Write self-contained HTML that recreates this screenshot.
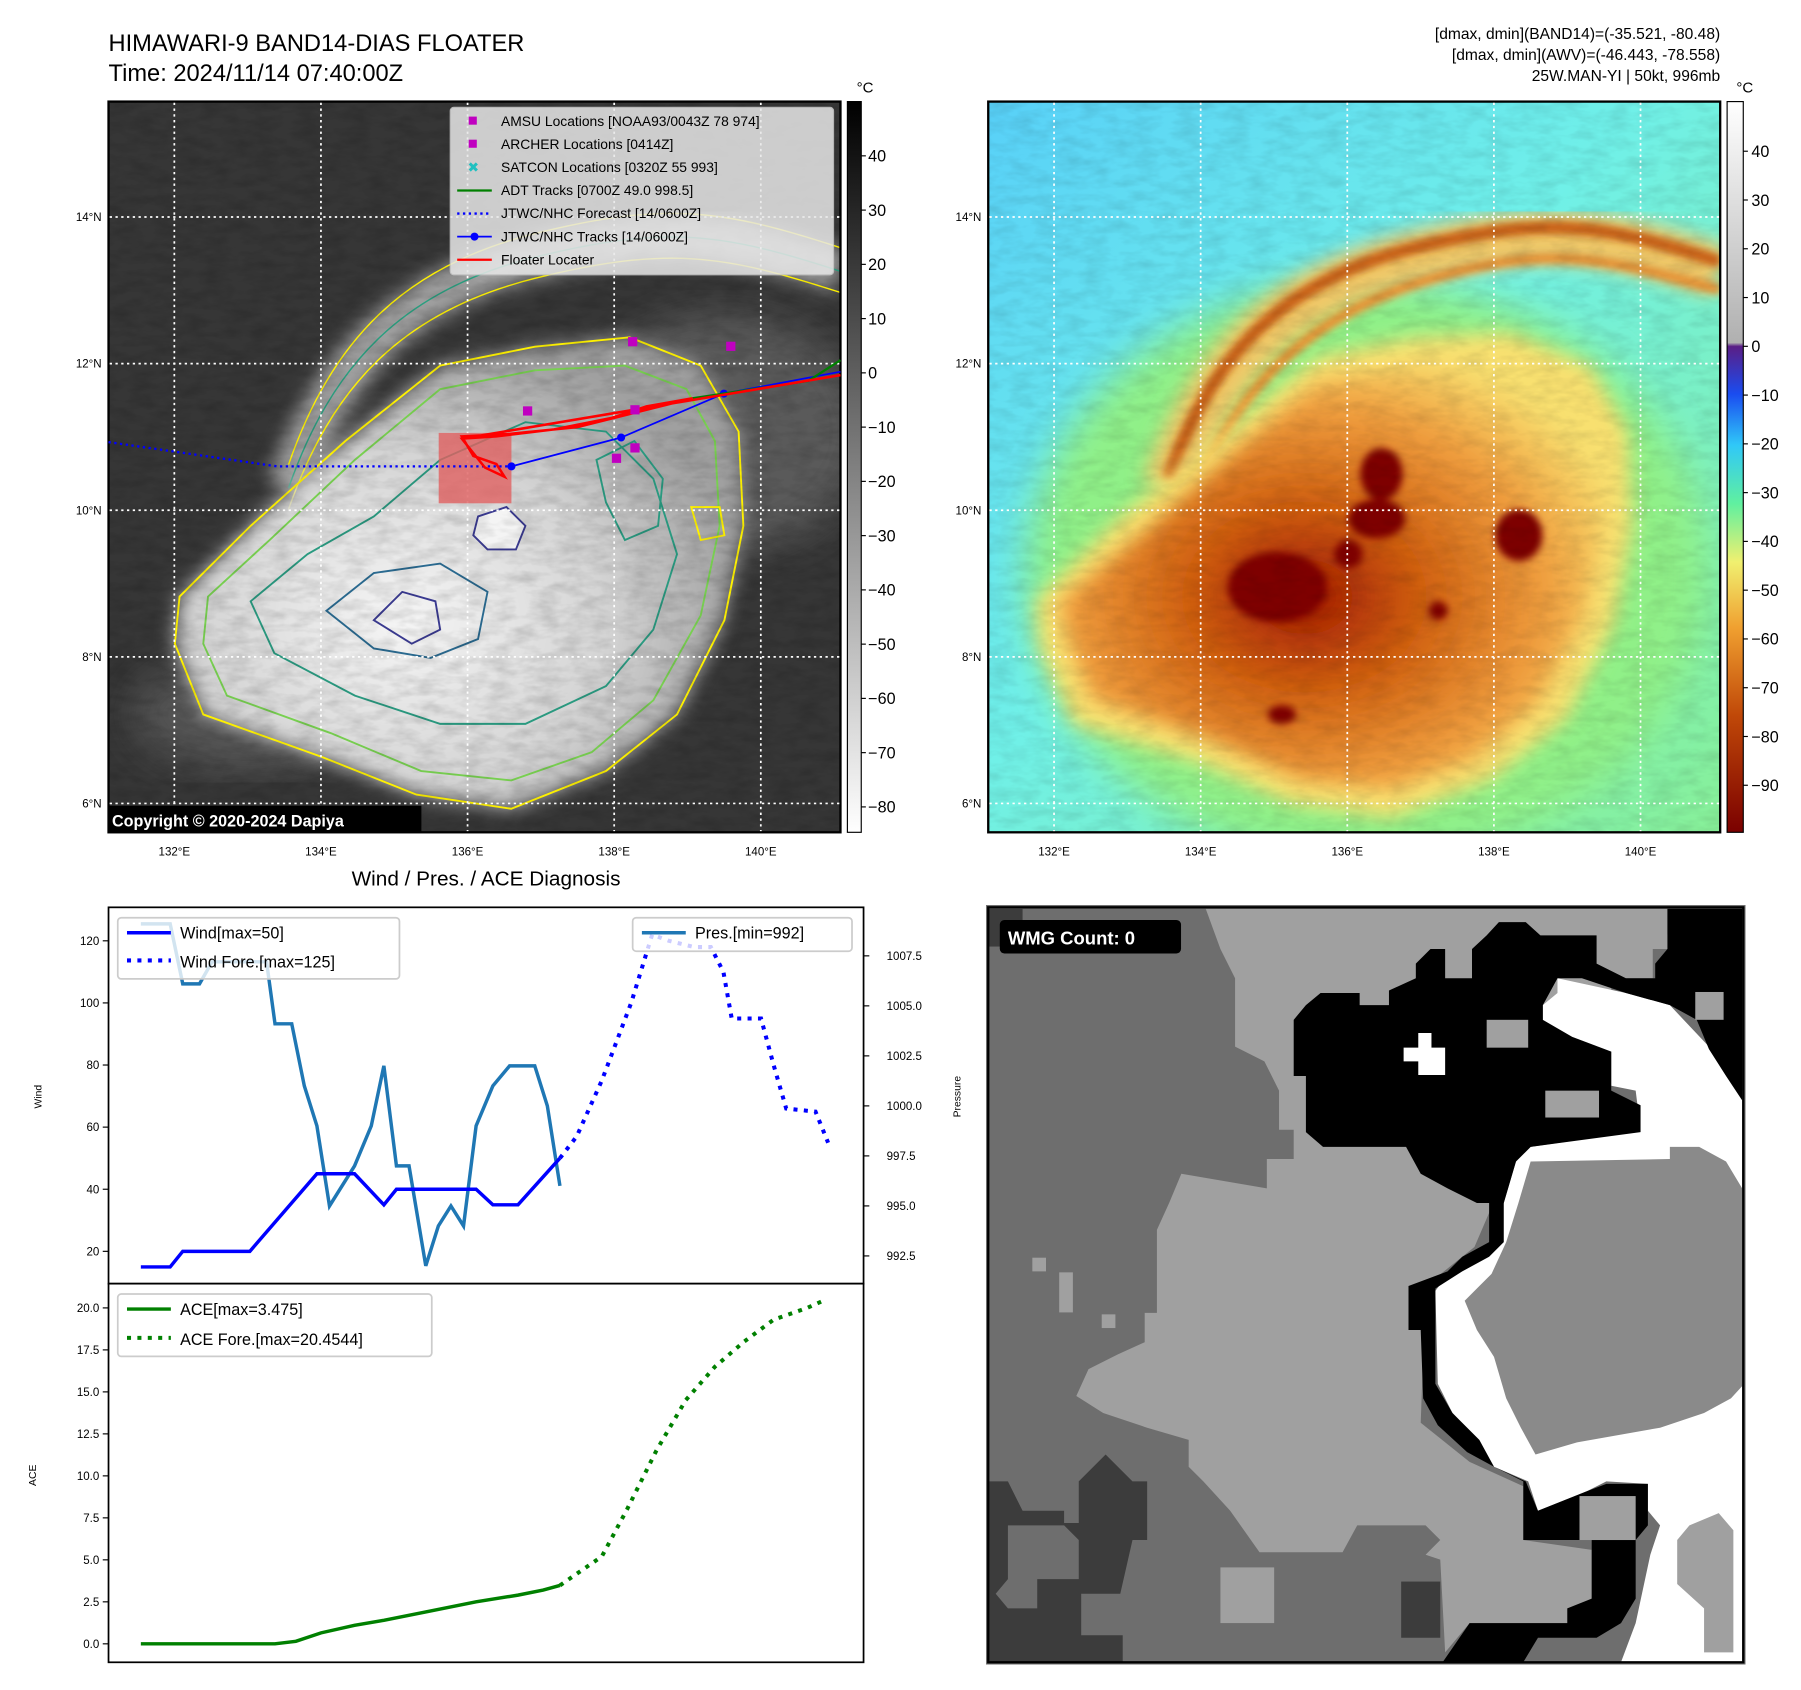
<!DOCTYPE html>
<html><head><meta charset="utf-8"><style>
html,body{margin:0;padding:0;background:#fff}
svg{display:block}
text{font-family:"Liberation Sans","DejaVu Sans",sans-serif}
</style></head><body>
<svg id="fig" xmlns="http://www.w3.org/2000/svg" width="1801" height="1690" viewBox="0 0 1560 1464" preserveAspectRatio="none">
<defs>
<filter id="blur8"><feGaussianBlur stdDeviation="8"/></filter>
<filter id="blur20"><feGaussianBlur stdDeviation="20"/></filter>
<filter id="blur40"><feGaussianBlur stdDeviation="40"/></filter>
<filter id="noise" x="0" y="0" width="100%" height="100%"><feTurbulence type="fractalNoise" baseFrequency="0.02 0.05" numOctaves="3" seed="4"/><feColorMatrix type="matrix" values="0 0 0 0 0  0 0 0 0 0  0 0 0 0 0  0 0 0 -1.4 0.9"/></filter>
<linearGradient id="cbL" x1="0" y1="0" x2="0" y2="1"><stop offset="0" stop-color="#000"/><stop offset="1" stop-color="#fff"/></linearGradient>
<linearGradient id="cbR" x1="0" y1="0" x2="0" y2="1">
<stop offset="0" stop-color="#ffffff"/><stop offset="0.33" stop-color="#b0b0b0"/><stop offset="0.335" stop-color="#5a1e86"/>
<stop offset="0.4" stop-color="#1a4cf0"/><stop offset="0.47" stop-color="#30c8f8"/><stop offset="0.55" stop-color="#60f0a0"/>
<stop offset="0.63" stop-color="#f0f070"/><stop offset="0.72" stop-color="#f0a030"/><stop offset="0.84" stop-color="#c04808"/><stop offset="1" stop-color="#7a0000"/></linearGradient>
<radialGradient id="stormR" cx="0.45" cy="0.55" r="0.62"><stop offset="0" stop-color="#a01800"/><stop offset="0.35" stop-color="#d06010"/><stop offset="0.72" stop-color="#f0a040"/><stop offset="1" stop-color="#f8e070"/></radialGradient>
<radialGradient id="stormL" cx="0.4" cy="0.6" r="0.6"><stop offset="0" stop-color="#f6f6f6"/><stop offset="0.6" stop-color="#d4d4d4"/><stop offset="1" stop-color="#a0a0a0"/></radialGradient>
<linearGradient id="bgR" x1="0" y1="0" x2="1" y2="1"><stop offset="0" stop-color="#58d0f8"/><stop offset="0.45" stop-color="#70f0e8"/><stop offset="1" stop-color="#88f098"/></linearGradient>
<clipPath id="clipMap"><rect x="0" y="0" width="1545" height="1550"/></clipPath>
</defs>

<text x="94" y="44" font-size="20.5">HIMAWARI-9 BAND14-DIAS FLOATER</text>
<text x="94" y="70" font-size="20.5">Time: 2024/11/14 07:40:00Z</text>
<g font-size="13.5" text-anchor="end">
<text x="1490" y="34">[dmax, dmin](BAND14)=(-35.521, -80.48)</text>
<text x="1490" y="52">[dmax, dmin](AWV)=(-46.443, -78.558)</text>
<text x="1490" y="70">25W.MAN-YI | 50kt, 996mb</text>
</g>

<g>
<svg x="94" y="88" width="634" height="633" viewBox="0 0 1545 1550" preserveAspectRatio="none">
<g clip-path="url(#clipMap)">
<rect width="1545" height="1550" fill="#363636"/>
<ellipse cx="1300" cy="700" rx="300" ry="250" fill="#5a5a5a" filter="url(#blur40)"/>
<ellipse cx="300" cy="1300" rx="250" ry="120" fill="#555" filter="url(#blur40)"/>
<path d="M380,820 C470,560 620,400 900,330 S1300,280 1545,360" stroke="#a0a0a0" stroke-width="90" fill="none" filter="url(#blur20)"/>
<path d="M380,820 C470,560 620,400 900,330 S1300,280 1545,360" stroke="#fff200" stroke-width="3" fill="none" transform="translate(0,-50)"/>
<path d="M380,820 C470,560 620,400 900,330 S1300,280 1545,360" stroke="#fff200" stroke-width="3" fill="none" transform="translate(0,45)"/>
<path d="M380,820 C470,560 620,400 900,330 S1300,280 1545,360" stroke="#2aa080" stroke-width="3" fill="none"/>
<path d="M150,1050 L300,900 L500,720 L700,560 L900,520 L1100,500 L1250,560 L1330,700 L1340,900 L1300,1100 L1200,1300 L1050,1420 L850,1500 L650,1470 L450,1390 L200,1300 L140,1150 Z" fill="url(#stormL)" filter="url(#blur20)"/>
<path d="M150,1050 L300,900 L500,720 L700,560 L900,520 L1100,500 L1250,560 L1330,700 L1340,900 L1300,1100 L1200,1300 L1050,1420 L850,1500 L650,1470 L450,1390 L200,1300 L140,1150 Z" fill="none" stroke="#fff200" stroke-width="4"/>
<path d="M210,1050 L340,930 L520,760 L700,610 L900,570 L1090,560 L1220,610 L1280,720 L1290,900 L1250,1090 L1150,1270 L1020,1380 L850,1440 L660,1420 L470,1340 L250,1260 L200,1150 Z" fill="none" stroke="#78d050" stroke-width="4"/>
<path d="M300,1060 L420,960 L560,880 L700,760 L880,680 L1050,700 L1150,800 L1200,960 L1150,1120 L1050,1240 L880,1320 L700,1320 L520,1260 L350,1170 Z" fill="none" stroke="#2a9a80" stroke-width="4"/>
<path d="M460,1080 L560,1000 L700,980 L800,1040 L780,1140 L680,1180 L560,1160 Z" fill="none" stroke="#2a6a90" stroke-width="4"/>
<path d="M560,1100 L620,1040 L690,1060 L700,1120 L640,1150 Z" fill="none" stroke="#3a3a90" stroke-width="4"/>
<path d="M780,880 L840,860 L880,900 L860,950 L800,950 L770,920 Z" fill="#f4f4f4" stroke="#3a3a90" stroke-width="4"/>
<path d="M1030,760 L1110,720 L1170,800 L1160,900 L1090,930 L1050,850 Z" fill="none" stroke="#2a9a80" stroke-width="4"/>
<path d="M1230,860 L1290,860 L1300,920 L1250,930 Z" fill="none" stroke="#fff200" stroke-width="4"/>
<rect width="1545" height="1550" filter="url(#noise)" opacity="0.18"/>
</g>
</svg>
<rect x="94" y="88" width="634" height="633" fill="none" stroke="#000" stroke-width="2"/>
</g>

<g>
<svg x="856" y="88" width="634" height="633" viewBox="0 0 1545 1550" preserveAspectRatio="none">
<g clip-path="url(#clipMap)">
<rect width="1545" height="1550" fill="url(#bgR)"/>
<ellipse cx="800" cy="1000" rx="720" ry="620" fill="#90f088" filter="url(#blur40)"/>
<path d="M380,820 C470,560 620,400 900,330 S1300,280 1545,360" stroke="#f0c868" stroke-width="110" fill="none" filter="url(#blur20)"/>
<path d="M380,800 C470,540 620,380 900,310 S1300,260 1545,340" stroke="#c86018" stroke-width="28" fill="none" filter="url(#blur8)"/>
<path d="M420,860 C520,620 660,460 920,380 S1300,330 1545,400" stroke="#e89030" stroke-width="22" fill="none" filter="url(#blur8)"/>
<path d="M100,1060 L280,880 L500,700 L700,540 L900,500 L1100,490 L1270,560 L1350,700 L1360,900 L1320,1110 L1220,1310 L1060,1440 L850,1520 L640,1490 L440,1400 L180,1320 L110,1160 Z" fill="#f8e070" filter="url(#blur20)"/>
<path d="M150,1060 L320,920 L520,740 L700,590 L900,560 L1090,550 L1230,610 L1300,720 L1300,900 L1260,1090 L1160,1280 L1020,1400 L850,1460 L660,1440 L460,1350 L220,1270 L170,1150 Z" fill="url(#stormR)" filter="url(#blur20)"/>
<g fill="#7e0000" filter="url(#blur8)">
<ellipse cx="830" cy="790" rx="45" ry="55"/>
<ellipse cx="820" cy="885" rx="60" ry="42"/>
<ellipse cx="610" cy="1030" rx="105" ry="75"/>
<ellipse cx="1120" cy="920" rx="50" ry="55"/>
<ellipse cx="620" cy="1300" rx="30" ry="20"/>
<ellipse cx="760" cy="960" rx="30" ry="30"/>
<ellipse cx="950" cy="1080" rx="20" ry="20"/>
</g>
<rect width="1545" height="1550" filter="url(#noise)" opacity="0.12"/>
</g>
</svg>
<rect x="856" y="88" width="634" height="633" fill="none" stroke="#000" stroke-width="2"/>
</g>

<g id="grids" stroke="#fff" stroke-width="1.5" stroke-dasharray="2,3"></g>
<g id="gridlabels" font-size="10"></g>

<g>
<rect x="380" y="375" width="63" height="61" fill="#e06060" opacity="0.8"/>
<polyline points="94,383 240,404 443,404" fill="none" stroke="#0000ff" stroke-width="2" stroke-dasharray="2,3"/>
<polyline points="443,404 538,379 627,341 728,322" fill="none" stroke="#0000ff" stroke-width="1.5"/>
<g fill="#0000ff"><circle cx="443" cy="404" r="3.5"/><circle cx="538" cy="379" r="3.5"/><circle cx="627" cy="341" r="3.5"/></g>
<polyline points="600,345 700,330 728,312" fill="none" stroke="#008000" stroke-width="2"/>
<polyline points="400,380 430,378 480,372 530,362 560,352 600,345 560,355 500,370 440,376 400,378 410,395 430,402 437,413 420,405 400,380 728,325" fill="none" stroke="#ff0000" stroke-width="2.2"/>
<g fill="#c000c0">
<rect x="544" y="292" width="8" height="8"/><rect x="629" y="296" width="8" height="8"/><rect x="453" y="352" width="8" height="8"/><rect x="546" y="351" width="8" height="8"/><rect x="546" y="384" width="8" height="8"/><rect x="530" y="393" width="8" height="8"/>
</g>
</g>

<g font-size="12">
<rect x="390" y="93" width="332" height="145" rx="3" fill="#e8e8e8" opacity="0.85" stroke="#ccc"/>
<rect x="406" y="101" width="7" height="7" fill="#c000c0"/><text x="434" y="109">AMSU Locations [NOAA93/0043Z 78 974]</text>
<rect x="406" y="121" width="7" height="7" fill="#c000c0"/><text x="434" y="129">ARCHER Locations [0414Z]</text>
<text x="405" y="149" fill="#20c0c0" font-size="12">✖</text><text x="434" y="149">SATCON Locations [0320Z 55 993]</text>
<line x1="396" y1="165" x2="426" y2="165" stroke="#008000" stroke-width="2"/><text x="434" y="169">ADT Tracks [0700Z 49.0 998.5]</text>
<line x1="396" y1="185" x2="426" y2="185" stroke="#0000ff" stroke-width="2" stroke-dasharray="2,3"/><text x="434" y="189">JTWC/NHC Forecast [14/0600Z]</text>
<line x1="396" y1="205" x2="426" y2="205" stroke="#0000ff" stroke-width="1.5"/><circle cx="411" cy="205" r="3.5" fill="#0000ff"/><text x="434" y="209">JTWC/NHC Tracks [14/0600Z]</text>
<line x1="396" y1="225" x2="426" y2="225" stroke="#ff0000" stroke-width="2"/><text x="434" y="229">Floater Locater</text>
</g>
<g>
<rect x="94" y="698" width="271" height="23" fill="#000"/>
<text x="97" y="716" fill="#fff" font-size="14" font-weight="bold">Copyright © 2020-2024 Dapiya</text>
</g>

<g>
<rect x="734" y="88" width="12" height="633" fill="url(#cbL)" stroke="#000" stroke-width="1"/>
<text x="742" y="80" font-size="13">°C</text>
<g id="cbLticks" font-size="14"></g>
</g>
<g>
<rect x="1496" y="88" width="14" height="633" fill="url(#cbR)" stroke="#000" stroke-width="1"/>
<text x="1504" y="80" font-size="13">°C</text>
<g id="cbRticks" font-size="14"></g>
</g>

<text x="421" y="767" font-size="18" text-anchor="middle">Wind / Pres. / ACE Diagnosis</text>
<g id="windchart"></g>
<g id="acechart"></g>

<g>
<svg x="854" y="784" width="658" height="658" viewBox="0 0 1555 1555" preserveAspectRatio="none">
<rect width="1555" height="1555" fill="#6e6e6e"/>
<rect x="5" y="8" width="70" height="77" fill="#3c3c3c"/>
<path fill="#a0a0a0" d="M450,8 L1395,8 L1395,60 L1420,60 L1420,90 L1365,90 L1365,150 L1280,150 L1280,300 L1140,300 L1060,560 L1000,700 L900,780 L890,1060 L990,1140 L1100,1190 L1100,1300 L1240,1320 L1240,1420 L1190,1470 L990,1470 L940,1530 L930,1340 L900,1330 L930,1300 L900,1270 L760,1270 L730,1325 L560,1325 L500,1240 L445,1180 L415,1150 L415,1095 L330,1070 L240,1040 L185,1005 L210,950 L270,920 L325,895 L325,835 L350,835 L350,665 L375,610 L400,550 L575,580 L575,520 L630,520 L630,460 L600,460 L600,380 L570,320 L510,290 L510,150 L480,90 Z"/>
<path fill="#ffffff" d="M1170,150 L1310,180 L1400,205 L1480,290 L1548,380 L1548,1550 L1300,1550 L1330,1470 L1360,1330 L1380,1270 L1355,1240 L1355,1185 L1270,1180 L1230,1200 L1130,1240 L1110,1180 L1040,1150 L1010,1100 L955,1040 L925,980 L920,790 L950,750 L1030,700 L1060,610 L1085,525 L1115,495 L1290,470 L1340,460 L1330,380 L1280,370 L1280,300 L1200,270 L1140,235 L1140,205 L1170,180 Z"/>
<path fill="#000" d="M1050,35 L1105,35 L1135,62 L1250,62 L1250,120 L1310,150 L1370,150 L1370,120 L1395,90 L1395,8 L1548,8 L1548,400 L1515,350 L1480,295 L1455,235 L1400,205 L1310,180 L1220,150 L1170,150 L1140,205 L1140,235 L1200,270 L1280,300 L1280,380 L1340,410 L1340,465 L1115,495 L1085,525 L1060,610 L1060,690 L1030,720 L975,750 L920,785 L920,980 L955,1040 L1010,1095 L1040,1150 L1105,1180 L1130,1240 L1230,1200 L1270,1185 L1355,1185 L1355,1270 L1330,1300 L1330,1420 L1300,1470 L1250,1500 L1130,1500 L1100,1550 L935,1550 L990,1470 L1190,1470 L1190,1440 L1240,1420 L1240,1300 L1100,1300 L1100,1180 L1040,1150 L985,1120 L925,1065 L895,1010 L890,870 L865,870 L865,780 L945,750 L975,720 L1030,690 L1030,610 L1005,610 L945,580 L890,550 L860,495 L690,495 L655,465 L655,350 L630,350 L630,235 L655,205 L685,180 L765,180 L765,205 L825,205 L825,175 L880,150 L880,120 L910,90 L940,90 L940,150 L995,150 L995,90 L1025,62 Z"/>
<rect x="1145" y="380" width="110" height="55" fill="#a0a0a0"/>
<rect x="1025" y="235" width="85" height="57" fill="#a0a0a0"/>
<rect x="1452" y="178" width="58" height="57" fill="#a0a0a0"/>
<path fill="#fff" d="M885,262 L912,262 L912,292 L940,292 L940,348 L885,348 L885,320 L855,320 L855,292 L885,292 Z"/>
<path fill="#8a8a8a" d="M1115,525 L1400,520 L1400,495 L1460,495 L1515,525 L1548,580 L1548,985 L1525,1010 L1470,1040 L1380,1070 L1210,1100 L1125,1125 L1095,1070 L1065,1010 L1040,925 L1005,870 L980,810 L1005,785 L1035,755 L1065,690 L1090,610 Z"/>
<rect x="1215" y="1210" width="115" height="90" fill="#a0a0a0"/>
<path fill="#a0a0a0" d="M1440,1270 L1500,1245 L1530,1280 L1530,1530 L1470,1530 L1470,1440 L1415,1390 L1415,1300 Z"/>
<path fill="#3c3c3c" d="M5,1180 L45,1180 L75,1240 L160,1240 L160,1265 L190,1265 L190,1180 L245,1125 L300,1180 L330,1180 L330,1300 L300,1300 L275,1410 L195,1410 L195,1495 L280,1495 L280,1550 L5,1550 Z"/>
<path fill="#6e6e6e" d="M45,1270 L160,1270 L190,1300 L190,1380 L105,1380 L105,1440 L45,1440 L20,1410 L45,1380 Z"/>
<rect x="850" y="1385" width="80" height="115" fill="#3c3c3c"/>
<rect x="95" y="722" width="28" height="28" fill="#a0a0a0"/>
<rect x="150" y="752" width="28" height="82" fill="#a0a0a0"/>
<rect x="237" y="838" width="28" height="28" fill="#a0a0a0"/>
<rect x="480" y="1356" width="110" height="114" fill="#a0a0a0"/>
</svg>
<rect x="856" y="786" width="654" height="654" fill="none" stroke="#000" stroke-width="2"/>
<rect x="866" y="797" width="157" height="29" rx="4" fill="#000"/>
<text x="873" y="818" fill="#fff" font-size="16" font-weight="bold">WMG Count: 0</text>
</g>
</svg>

<script>
var windTimes = [0, 7, 10, 26, 42, 51, 58, 61, 80, 84, 90, 100];
var windObs = [15, 15, 20, 20, 45, 45, 35, 40, 40, 35, 35, 50];
var windFcTimes = [100, 104, 110, 117, 122, 126, 132, 136, 139, 141, 148, 151, 154, 161, 164];
var windFc = [50, 57, 75, 100, 122, 120, 118, 118, 110, 95, 95, 80, 66, 65, 55];
var presTimes = [0, 7, 10, 14, 17, 30, 32, 36, 39, 42, 45, 51, 55, 58, 61, 64, 68, 71, 74, 77, 80, 84, 88, 94, 97, 100];
var presObs = [1009.1, 1009.1, 1006.1, 1006.1, 1007.2, 1007.2, 1004.1, 1004.1, 1001, 999, 995, 997, 999, 1002, 997, 997, 992, 994, 995, 994, 999, 1001, 1002, 1002, 1000, 996];
var aceTimes = [0, 32, 37, 43, 51, 58, 68, 80, 90, 96, 100];
var aceObs = [0, 0, 0.15, 0.65, 1.1, 1.4, 1.9, 2.5, 2.9, 3.2, 3.475];
var aceFcTimes = [100, 110, 116, 123, 130, 137, 144, 151, 159, 163];
var aceFc = [3.475, 5.2, 8, 11.5, 14.5, 16.5, 18, 19.3, 20, 20.45];
var windTicks = [20, 40, 60, 80, 100, 120];
var presTicks = [992.5, 995.0, 997.5, 1000.0, 1002.5, 1005.0, 1007.5];
var aceTicks = [0.0, 2.5, 5.0, 7.5, 10.0, 12.5, 15.0, 17.5, 20.0];
var cbLeftTicks = [40, 30, 20, 10, 0, -10, -20, -30, -40, -50, -60, -70, -80];
var cbRightTicks = [40, 30, 20, 10, 0, -10, -20, -30, -40, -50, -60, -70, -80, -90];
var lonTicks = [132, 134, 136, 138, 140];
var latTicks = [14, 12, 10, 8, 6];

var NS = 'http://www.w3.org/2000/svg';
function mk(tag, attrs, parent) {
  var e = document.createElementNS(NS, tag);
  for (var k in attrs) e.setAttribute(k, attrs[k]);
  if (parent) parent.appendChild(e);
  return e;
}
function xT(t) { return 122 + t * 3.63; }
function yW(w) { return 1084 - (w - 20) * 2.69; }
function yP(p) { return 958 - (p - 1000) * 17.33; }
function yA(a) { return 1424 - a * 14.55; }
function xLon(l, off) { return 151 + (l - 132) * 63.5 + off; }
function yLat(l) { return 188 + (14 - l) * 63.5; }
function yCbL(v) { return 135 + (40 - v) * 4.7; }
function yCbR(v) { return 131 + (40 - v) * 4.225; }
function pts(ts, vs, fy) { return ts.map(function (t, i) { return xT(t).toFixed(1) + ',' + fy(vs[i]).toFixed(1); }).join(' '); }

var grids = document.getElementById('grids');
var gl = document.getElementById('gridlabels');
[0, 762].forEach(function (off) {
  lonTicks.forEach(function (l) {
    var ln = mk('line', { x1: xLon(l, off), x2: xLon(l, off), y1: 89, y2: 720 }, grids);
    
    
    var tx = mk('text', { x: xLon(l, off), y: 741, 'text-anchor': 'middle' }, gl);
    tx.textContent = l + '°E';
    
    
  });
  latTicks.forEach(function (l) {
    var ln = mk('line', { x1: 95 + off, x2: 727 + off, y1: yLat(l), y2: yLat(l) }, grids);
    
    
    var tx = mk('text', { x: 88 + off, y: yLat(l) + 3.5, 'text-anchor': 'end' }, gl);
    tx.textContent = l + '°N';
    
    
  });
});
function fmtNeg(v) { return v < 0 ? '\u2212' + Math.abs(v) : '' + v; }
var cbl = document.getElementById('cbLticks');
cbLeftTicks.forEach(function (v) {
  mk('line', { x1: 746, x2: 750, y1: yCbL(v), y2: yCbL(v), stroke: '#000' }, cbl);
  var t = mk('text', { x: 752, y: yCbL(v) + 5 }, cbl);
  t.textContent = fmtNeg(v);
  
  
});
var cbr = document.getElementById('cbRticks');
cbRightTicks.forEach(function (v) {
  mk('line', { x1: 1510, x2: 1514, y1: yCbR(v), y2: yCbR(v), stroke: '#000' }, cbr);
  var t = mk('text', { x: 1517, y: yCbR(v) + 5 }, cbr);
  t.textContent = fmtNeg(v);
  
  
});

var wc = document.getElementById('windchart');
mk('rect', { x: 94, y: 786, width: 654, height: 326, fill: '#fff', stroke: '#000', 'stroke-width': 1.5 }, wc);
windTicks.forEach(function (v) {
  mk('line', { x1: 89, x2: 94, y1: yW(v), y2: yW(v), stroke: '#000' }, wc);
  var t = mk('text', { x: 86, y: yW(v) + 3.5, 'font-size': 10, 'text-anchor': 'end' }, wc);
  t.textContent = v;
  
  
});
presTicks.forEach(function (v) {
  mk('line', { x1: 748, x2: 753, y1: yP(v), y2: yP(v), stroke: '#000' }, wc);
  var t = mk('text', { x: 768, y: yP(v) + 3.5, 'font-size': 10 }, wc);
  t.textContent = v.toFixed(1);
  
  
});
var wl = mk('text', { x: 0, y: 0, 'font-size': 9, transform: 'translate(36,950) rotate(-90)', 'text-anchor': 'middle' }, wc);
wl.textContent = 'Wind';


var pl = mk('text', { x: 0, y: 0, 'font-size': 9, transform: 'translate(832,950) rotate(-90)', 'text-anchor': 'middle' }, wc);
pl.textContent = 'Pressure';



var presLine = mk('polyline', { points: pts(presTimes, presObs, yP), fill: 'none', stroke: '#1f77b4', 'stroke-width': 3 }, wc);


var windLine = mk('polyline', { points: pts(windTimes, windObs, yW), fill: 'none', stroke: '#0000ff', 'stroke-width': 3 }, wc);


var windFcLine = mk('polyline', { points: pts(windFcTimes, windFc, yW), fill: 'none', stroke: '#0000ff', 'stroke-width': 3.5, 'stroke-dasharray': '3.5,5.5' }, wc);



var lg1 = mk('g', {}, wc);


mk('rect', { x: 102, y: 795, width: 244, height: 53, rx: 3, fill: '#fff', 'fill-opacity': 0.8, stroke: '#ccc', 'stroke-width': 1.5 }, lg1);
mk('line', { x1: 110, x2: 148, y1: 808, y2: 808, stroke: '#0000ff', 'stroke-width': 3 }, lg1);
mk('line', { x1: 110, x2: 148, y1: 832, y2: 832, stroke: '#0000ff', 'stroke-width': 3.5, 'stroke-dasharray': '3.5,5.5' }, lg1);
mk('text', { x: 156, y: 813, 'font-size': 14 }, lg1).textContent = 'Wind[max=50]';
mk('text', { x: 156, y: 838, 'font-size': 14 }, lg1).textContent = 'Wind Fore.[max=125]';
var lg2 = mk('g', {}, wc);


mk('rect', { x: 548, y: 795, width: 190, height: 29, rx: 3, fill: '#fff', 'fill-opacity': 0.8, stroke: '#ccc', 'stroke-width': 1.5 }, lg2);
mk('line', { x1: 556, x2: 594, y1: 808, y2: 808, stroke: '#1f77b4', 'stroke-width': 3 }, lg2);
mk('text', { x: 602, y: 813, 'font-size': 14 }, lg2).textContent = 'Pres.[min=992]';

var ac = document.getElementById('acechart');
mk('rect', { x: 94, y: 1112, width: 654, height: 328, fill: '#fff', stroke: '#000', 'stroke-width': 1.5 }, ac);
aceTicks.forEach(function (v) {
  mk('line', { x1: 89, x2: 94, y1: yA(v), y2: yA(v), stroke: '#000' }, ac);
  var t = mk('text', { x: 86, y: yA(v) + 3.5, 'font-size': 10, 'text-anchor': 'end' }, ac);
  t.textContent = v.toFixed(1);
  
  
});
var al = mk('text', { x: 0, y: 0, 'font-size': 9, transform: 'translate(31,1278) rotate(-90)', 'text-anchor': 'middle' }, ac);
al.textContent = 'ACE';


var aceLine = mk('polyline', { points: pts(aceTimes, aceObs, yA), fill: 'none', stroke: '#008000', 'stroke-width': 3 }, ac);


var aceFcLine = mk('polyline', { points: pts(aceFcTimes, aceFc, yA), fill: 'none', stroke: '#008000', 'stroke-width': 3.5, 'stroke-dasharray': '3.5,5.5' }, ac);


var lg3 = mk('g', {}, ac);


mk('rect', { x: 102, y: 1121, width: 272, height: 54, rx: 3, fill: '#fff', 'fill-opacity': 0.8, stroke: '#ccc', 'stroke-width': 1.5 }, lg3);
mk('line', { x1: 110, x2: 148, y1: 1134, y2: 1134, stroke: '#008000', 'stroke-width': 3 }, lg3);
mk('line', { x1: 110, x2: 148, y1: 1159, y2: 1159, stroke: '#008000', 'stroke-width': 3.5, 'stroke-dasharray': '3.5,5.5' }, lg3);
mk('text', { x: 156, y: 1139, 'font-size': 14 }, lg3).textContent = 'ACE[max=3.475]';
mk('text', { x: 156, y: 1165, 'font-size': 14 }, lg3).textContent = 'ACE Fore.[max=20.4544]';
</script>
</body></html>
